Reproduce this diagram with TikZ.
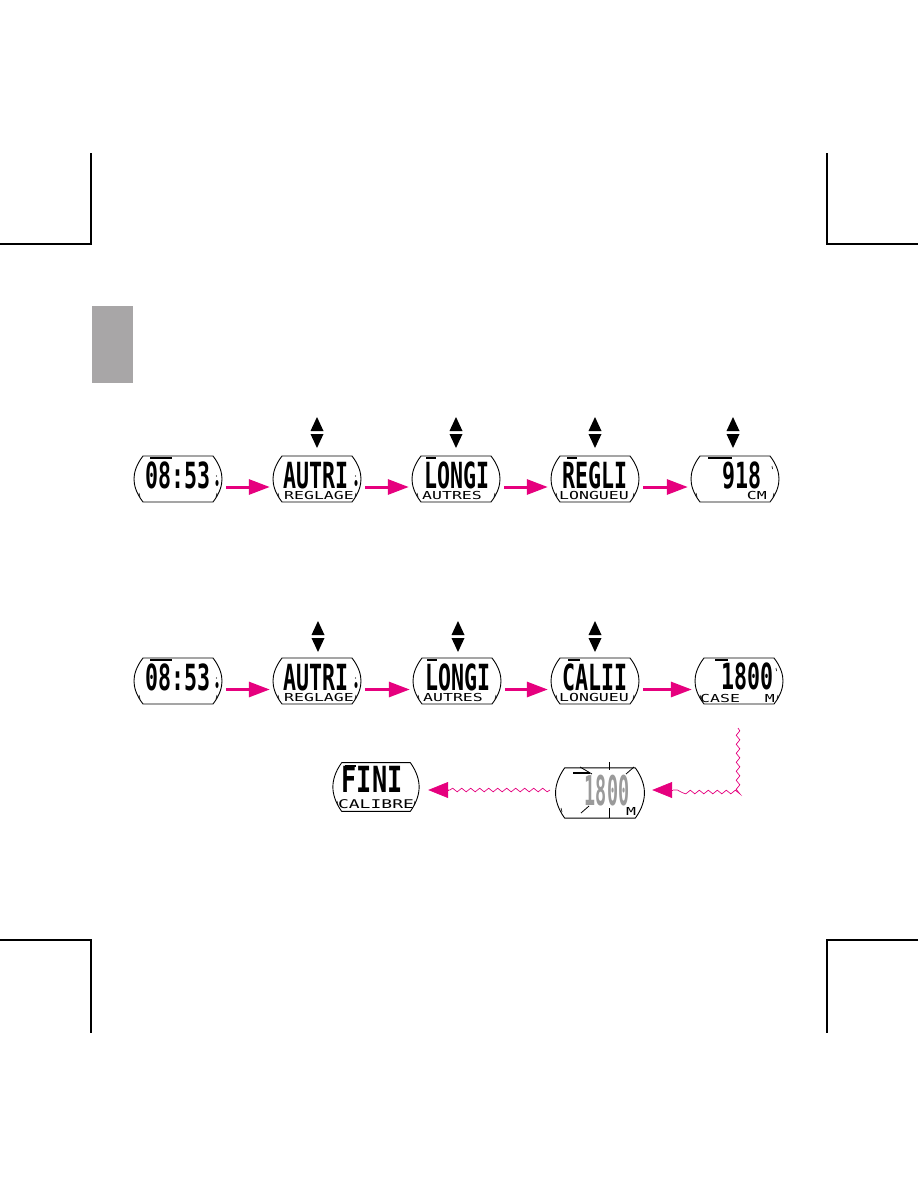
\documentclass[tikz,border=0pt]{standalone}
\usepackage{fontspec}
\usetikzlibrary{arrows.meta,calc,decorations.pathmorphing}
\newfontfamily\lcdbigfont[FakeStretch=0.6]{DejaVu Sans Mono Bold}
\newfontfamily\lcdwidefont[FakeStretch=0.7]{DejaVu Sans Mono Bold}
\newfontfamily\lcdsubfont[FakeStretch=1.5]{DejaVu Sans Mono}
\newfontfamily\lcdflashfont[FakeStretch=0.45]{DejaVu Sans Mono Bold}
\definecolor{mag}{HTML}{E6007E}
\definecolor{tabgray}{HTML}{A8A6A7}
\definecolor{flashgray}{HTML}{9A9A9A}
\tikzset{
  lcdbox/.style={minimum width=88pt, minimum height=46pt, inner sep=0pt, draw=none},
  lcdline/.style={line width=0.9pt, black, line join=round},
  lcdbar/.style={line width=1.6pt, black},
  lcdtick/.style={line width=0.6pt, black},
  bigtxt/.style={anchor=base, inner sep=0pt, text height=26pt, text depth=0pt, font=\lcdbigfont\fontsize{36}{36}\selectfont},
  subtxt/.style={anchor=base, inner sep=0pt, text height=7.5pt, text depth=0pt, font=\lcdsubfont\fontsize{11}{11}\selectfont},
  marrow/.style={draw=mag, line width=3pt, -{Triangle[length=21pt,width=15pt]}, shorten <=4pt, shorten >=3pt},
  wave/.style={draw=mag, line width=0.7pt, decorate, decoration={snake, segment length=9pt, amplitude=1.8pt}},
  whead/.style={draw=mag, line width=0.7pt, -{Triangle[length=20pt,width=16pt]}},
  cropline/.style={line width=1.1pt, black},
}
% outline of an LCD display around node #1, scaled by #2 (x) and #3 (y)
\newcommand\lcdframe[3]{%
  \draw[lcdline,shift={(#1.center)},xscale=#2,yscale=#3]
    (-35,-23) -- (35,-23) .. controls (42,-14) and (44,-6) .. (44,0)
    .. controls (44,6) and (42,14) .. (35,23) -- (-35,23)
    .. controls (-42,14) and (-44,6) .. (-44,0)
    .. controls (-44,-6) and (-42,-14) .. (-35,-23) -- cycle;}
\newcommand\lcdticks[1]{%
  \draw[lcdtick] ($(#1.center)+(-39,14)$) -- ++(1,4);
  \draw[lcdtick] ($(#1.center)+(39,14)$) -- ++(-1,4);}
\newcommand\lcdbarmark[3]{%
  \draw[lcdbar] ($(#1.center)+(#2,-21)$) -- ($(#1.center)+(#3,-21)$);}
\newcommand\lcddot[1]{%
  \fill ($(#1.center)+(39,4)$) ellipse (1.6pt and 3pt);
  \fill ($(#1.center)+(38.5,-3)$) circle (0.7pt);}
\newcommand\lcdupdown[2]{%
  \fill (#1,#2) -- (#1+6.5,#2+14) -- (#1-6.5,#2+14) -- cycle;
  \fill (#1-6.5,#2+17) -- (#1+6.5,#2+17) -- (#1,#2+31) -- cycle;}
\begin{document}
\begin{tikzpicture}[x=1pt,y=-1pt]
\useasboundingbox (0,0) rectangle (918,1188);
\fill[white] (0,0) rectangle (918,1188);

% crop marks
\draw[cropline] (91,153) -- (91,244) -- (0,244);
\draw[cropline] (827,153) -- (827,244) -- (918,244);
\draw[cropline] (0,940) -- (91,940) -- (91,1033);
\draw[cropline] (918,940) -- (827,940) -- (827,1033);
% grey tab
\fill[tabgray] (92,306) rectangle (133,383);

% ---------- row 1 ----------
\node[lcdbox] (a1) at (178,479) {};
\node[lcdbox] (a2) at (317,479) {};
\node[lcdbox] (a3) at (456,479) {};
\node[lcdbox] (a4) at (595,479) {};
\node[lcdbox] (a5) at (735,479) {};
\foreach \n in {a1,a2,a3,a4,a5} {\lcdframe{\n}{1}{1}\lcdticks{\n}}
\node[bigtxt] (a1t) at (178,488) {08:53};
\lcdbarmark{a1}{-28}{-6}\lcddot{a1}
\node[bigtxt] (a2t) at (316,488) {AUTRI};
\node[subtxt] (a2s) at (319,499) {REGLAGE};
\lcddot{a2}
\node[bigtxt] (a3t) at (457,488) {LONGI};
\node[subtxt] (a3s) at (452,499) {AUTRES};
\lcdbarmark{a3}{-30}{-20}
\node[bigtxt] (a4t) at (595,488) {REGLI};
\node[subtxt] (a4s) at (594,499) {LONGUEU};
\lcdbarmark{a4}{-28}{-18}
\node[bigtxt,anchor=base east] (a5t) at (762,488) {918};
\node[subtxt,anchor=base east] (a5s) at (767,499) {CM};
\lcdbarmark{a5}{-27}{-3}
\draw[lcdtick] ($(a5.center)+(37,-13)$) -- ++(0.5,3);

\foreach \x in {317,456,595,733} {\lcdupdown{\x}{417}}
\draw[marrow] ([yshift=-8pt]a1.east) -- ([yshift=-8pt]a2.west);
\draw[marrow] ([yshift=-8pt]a2.east) -- ([yshift=-8pt]a3.west);
\draw[marrow] ([yshift=-8pt]a3.east) -- ([yshift=-8pt]a4.west);
\draw[marrow] ([yshift=-8pt]a4.east) -- ([yshift=-8pt]a5.west);

% ---------- row 2 ----------
\node[lcdbox] (b1) at (178,681) {};
\node[lcdbox] (b2) at (317,681) {};
\node[lcdbox] (b3) at (457,681) {};
\node[lcdbox] (b4) at (595,681) {};
\node[lcdbox] (b5) at (739,681) {};
\foreach \n in {b1,b2,b3,b4,b5} {\lcdframe{\n}{1}{1}\lcdticks{\n}}
\node[bigtxt] (b1t) at (178,690) {08:53};
\lcdbarmark{b1}{-28}{-6}\lcddot{b1}
\node[bigtxt] (b2t) at (316,690) {AUTRI};
\node[subtxt] (b2s) at (319,701) {REGLAGE};
\lcddot{b2}
\node[bigtxt] (b3t) at (458,690) {LONGI};
\node[subtxt] (b3s) at (453,701) {AUTRES};
\lcdbarmark{b3}{-30}{-20}
\node[bigtxt] (b4t) at (595,690) {CALII};
\node[subtxt] (b4s) at (594,701) {LONGUEU};
\lcdbarmark{b4}{-27}{-15}
\node[bigtxt,anchor=base east] (b5t) at (774,689) {1800};
\node[subtxt,anchor=base west] (b5s) at (700,702) {CASE};
\node[subtxt,anchor=base east] (b5m) at (775,702) {M};
\lcdbarmark{b5}{-24}{-11}
\draw[lcdtick] ($(b5.center)+(37,-13)$) -- ++(0.5,3);

\foreach \x in {318,458,595} {\lcdupdown{\x}{621}}
\draw[marrow] ([yshift=-8.5pt]b1.east) -- ([yshift=-8.5pt]b2.west);
\draw[marrow] ([yshift=-8.5pt]b2.east) -- ([yshift=-8.5pt]b3.west);
\draw[marrow] ([yshift=-8.5pt]b3.east) -- ([yshift=-8.5pt]b4.west);
\draw[marrow] ([yshift=-8.5pt]b4.east) -- ([yshift=-8.5pt]b5.west);

% ---------- row 3 ----------
\node[lcdbox] (fini) at (376,787) {};
\lcdframe{fini}{0.98}{1.06}\lcdticks{fini}
\node[bigtxt,font=\lcdwidefont\fontsize{36}{36}\selectfont] (finit) at (372,792) {FINI};
\node[subtxt,text height=8.5pt,font=\lcdsubfont\fontsize{12}{12}\selectfont] (finis) at (376,808) {CALIBRE};
\lcdbarmark{fini}{-31}{-20}

\node[lcdbox] (flash) at (600,793) {};
\lcdframe{flash}{1.01}{1.09}
\node[anchor=base, inner sep=0pt, text height=29pt, text depth=0pt, text=flashgray, font=\lcdflashfont\fontsize{41}{41}\selectfont] (flasht) at (607,805) {1800};
\draw[lcdbar] (573,773) -- (590,773);
\draw[lcdtick,line width=0.8pt] (580,767) -- (592,774);
\draw[lcdtick,line width=0.8pt] (609,762) -- (609,770);
\draw[lcdtick,line width=0.8pt] (626,774) -- (634,767);
\draw[lcdtick,line width=0.8pt] (581,813) -- (589,806);
\draw[lcdtick,line width=0.8pt] (609,808) -- (609,818);
\draw[lcdtick] (561,808) -- (562,812);
\node[subtxt] (flashm) at (631,815) {M};

% wavy connectors
\coordinate (w1) at (738,728);
\coordinate (w2) at (738,790);
\coordinate (w3) at (673,790);
\draw[wave] (w1) -- (w2) -- (w3);
\draw[whead,shorten >=8pt] (w3) -- (flash.east |- w3);
\coordinate (w4) at (550,790);
\coordinate (w5) at (448,790);
\draw[wave] (w4) -- (w5);
\draw[whead,shorten >=8pt] (w5) -- (fini.east |- w5);
\end{tikzpicture}
\end{document}
